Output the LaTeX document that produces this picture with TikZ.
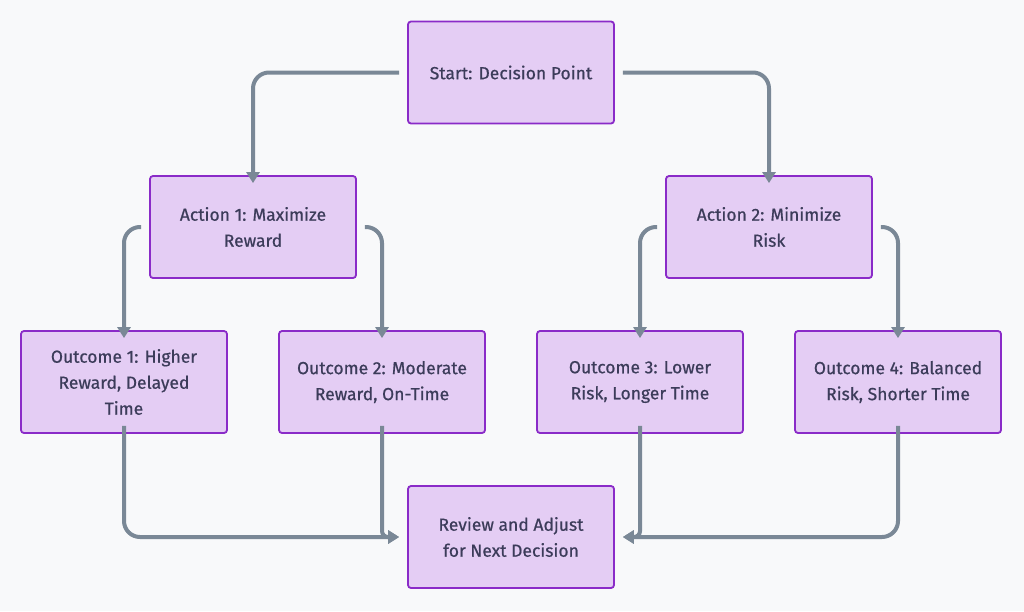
\documentclass[tikz,border=0pt]{standalone}
\usepackage{fontspec}
\setmainfont{Fira Sans}[FakeBold=0.6]
\usetikzlibrary{arrows.meta}
\definecolor{bg}{HTML}{F8F9FA}
\definecolor{boxfill}{HTML}{E4CDF4}
\definecolor{boxline}{HTML}{8A2BC8}
\definecolor{arrowc}{HTML}{7A8896}
\definecolor{txt}{HTML}{3C3C5A}
\tikzset{
  box/.style={draw=boxline, fill=boxfill, line width=1.8pt, rounded corners=3pt,
    minimum width=206pt, minimum height=102pt, align=center, text=txt,
    font=\fontsize{17.5}{26}\selectfont, inner sep=0pt},
  arr/.style={draw=arrowc, line width=4pt, rounded corners=16pt,
    -{Triangle[length=11pt,width=13pt]}},
  arrs/.style={arr, rounded corners=6pt}
}
\begin{document}
\begin{tikzpicture}[x=1pt,y=-1pt]
\fill[bg] (0,0) rectangle (1024,611);
\useasboundingbox (0,0) rectangle (1024,611);
\node[box] (s) at (511,72.5) {Start: Decision Point};
\node[box] (a1) at (253,227) {Action 1: Maximize\\Reward};
\node[box] (a2) at (769,227) {Action 2: Minimize\\Risk};
\node[box] (o1) at (124,382) {Outcome 1: Higher\\Reward, Delayed\\Time};
\node[box] (o2) at (382,382) {Outcome 2: Moderate\\Reward, On-Time};
\node[box] (o3) at (640,382) {Outcome 3: Lower\\Risk, Longer Time};
\node[box] (o4) at (898,382) {Outcome 4: Balanced\\Risk, Shorter Time};
\node[box] (r) at (511,537) {Review and Adjust\\for Next Decision};
\draw[arr] ([xshift=-8pt]s.west) -| ([yshift=-8pt]a1.north);
\draw[arr] ([xshift=8pt]s.east) -| ([yshift=-8pt]a2.north);
\draw[arr] ([xshift=-8pt]a1.west) -| ([yshift=-8pt]o1.north);
\draw[arr] ([xshift=8pt]a1.east) -| ([yshift=-8pt]o2.north);
\draw[arr] ([xshift=-8pt]a2.west) -| ([yshift=-8pt]o3.north);
\draw[arr] ([xshift=8pt]a2.east) -| ([yshift=-8pt]o4.north);
\draw[arr] ([yshift=8pt]o1.south) |- ([xshift=-8pt]r.west);
\draw[arrs] ([yshift=8pt]o2.south) |- ([xshift=-8pt]r.west);
\draw[arrs] ([yshift=8pt]o3.south) |- ([xshift=8pt]r.east);
\draw[arr] ([yshift=8pt]o4.south) |- ([xshift=8pt]r.east);
\end{tikzpicture}
\end{document}
